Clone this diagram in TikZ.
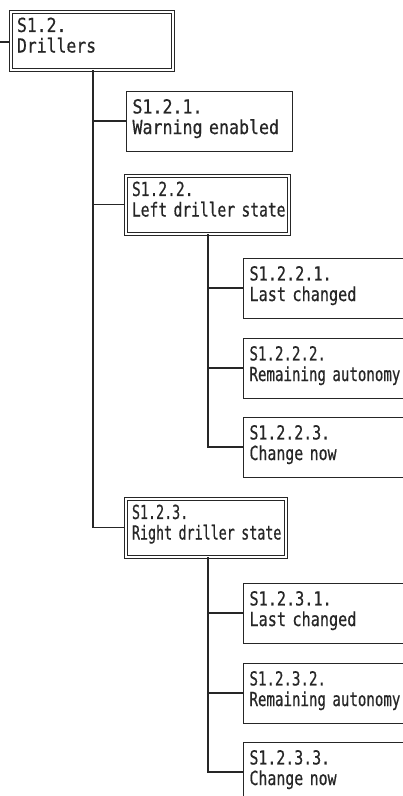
\documentclass[tikz,border=0pt]{standalone}
\usepackage{fontspec}
\newfontfamily\boxfont{DejaVu Sans Mono}[FakeBold=0.5]
\usetikzlibrary{calc}
\definecolor{ink}{HTML}{262626}
\newdimen\bxH \newdimen\bxD
\newcommand\bx[2]{\vrule width 0pt height\bxH depth\bxD\rlap{\smash{\parbox[b]{300pt}{\raggedright #1\\#2}}}}
\newcommand\fsz{\fontsize{14.5pt}{15.4pt}\selectfont}
\tikzset{
  st/.style={font={\boxfont\fsz\addfontfeature{FakeStretch=#1}}},
  basebox/.style 2 args={draw=ink, text=ink, line width=0.75pt, anchor=north west,
    minimum width={(#1)*0.75pt}, minimum height={(#2)*0.75pt},
    text width={(#1-13)*0.75pt}, inner xsep=4.875pt, inner ysep=0pt, align=left,
    st=0.74},
  single/.style 2 args={basebox={#1}{#2}, execute at begin node={\bxH=30pt\bxD=10.5pt}},
  dbl/.style 2 args={basebox={#1}{#2}, double=white, double distance=1.5pt,
    execute at begin node={\bxH=28.5pt\bxD=10.5pt}},
  conn/.style={draw=ink, line width=0.8pt}
}
\begin{document}
\begin{tikzpicture}[x=0.75pt,y=-0.75pt]
\useasboundingbox (0,0) rectangle (403,796);
\fill[white] (0,0) rectangle (403,796);
\clip (0,0) rectangle (403,796);
\node[dbl={162}{58}, st=0.85] (drillers) at (10,11) {\bx{S1.2.}{Drillers}};
\node[single={166}{60}, st=0.86] (s121) at (125.5,90.5) {\bx{S1.2.1.}{Warning enabled}};
\node[dbl={163}{58}, st=0.755] (s122) at (125,175) {\bx{S1.2.2.}{Left driller state}};
\node[single={172}{60}, st=0.785] (s1221) at (242.5,257.5) {\bx{S1.2.2.1.}{Last changed}};
\node[single={172}{60}, st=0.73] (s1222) at (242.5,337.5) {\bx{S1.2.2.2.}{Remaining autonomy}};
\node[single={172}{60}, st=0.77] (s1223) at (242.5,416.5) {\bx{S1.2.2.3.}{Change now}};
\node[dbl={160}{58}, st=0.69] (s123) at (125,498) {\bx{S1.2.3.}{Right driller state}};
\node[single={172}{60}, st=0.785] (s1231) at (242.5,582.5) {\bx{S1.2.3.1.}{Last changed}};
\node[single={172}{60}, st=0.73] (s1232) at (242.5,662.5) {\bx{S1.2.3.2.}{Remaining autonomy}};
\node[single={172}{60}, st=0.77] (s1233) at (242.5,741.5) {\bx{S1.2.3.3.}{Change now}};
\coordinate (in) at (0,42);
\draw[conn] (in) -- (in -| drillers.west);
\coordinate (dv) at ($(drillers.south west)+(83,0)$);
\draw[conn] (dv) |- (s121.west);
\draw[conn] (dv) |- (s122.west);
\draw[conn] (dv) |- (s123.west);
\coordinate (lv) at ($(s122.south west)+(83,0)$);
\draw[conn] (lv) |- (s1221.west);
\draw[conn] (lv) |- (s1222.west);
\draw[conn] (lv) |- (s1223.west);
\coordinate (rv) at ($(s123.south west)+(83,0)$);
\draw[conn] (rv) |- (s1231.west);
\draw[conn] (rv) |- (s1232.west);
\draw[conn] (rv) |- (s1233.west);
\end{tikzpicture}
\end{document}
